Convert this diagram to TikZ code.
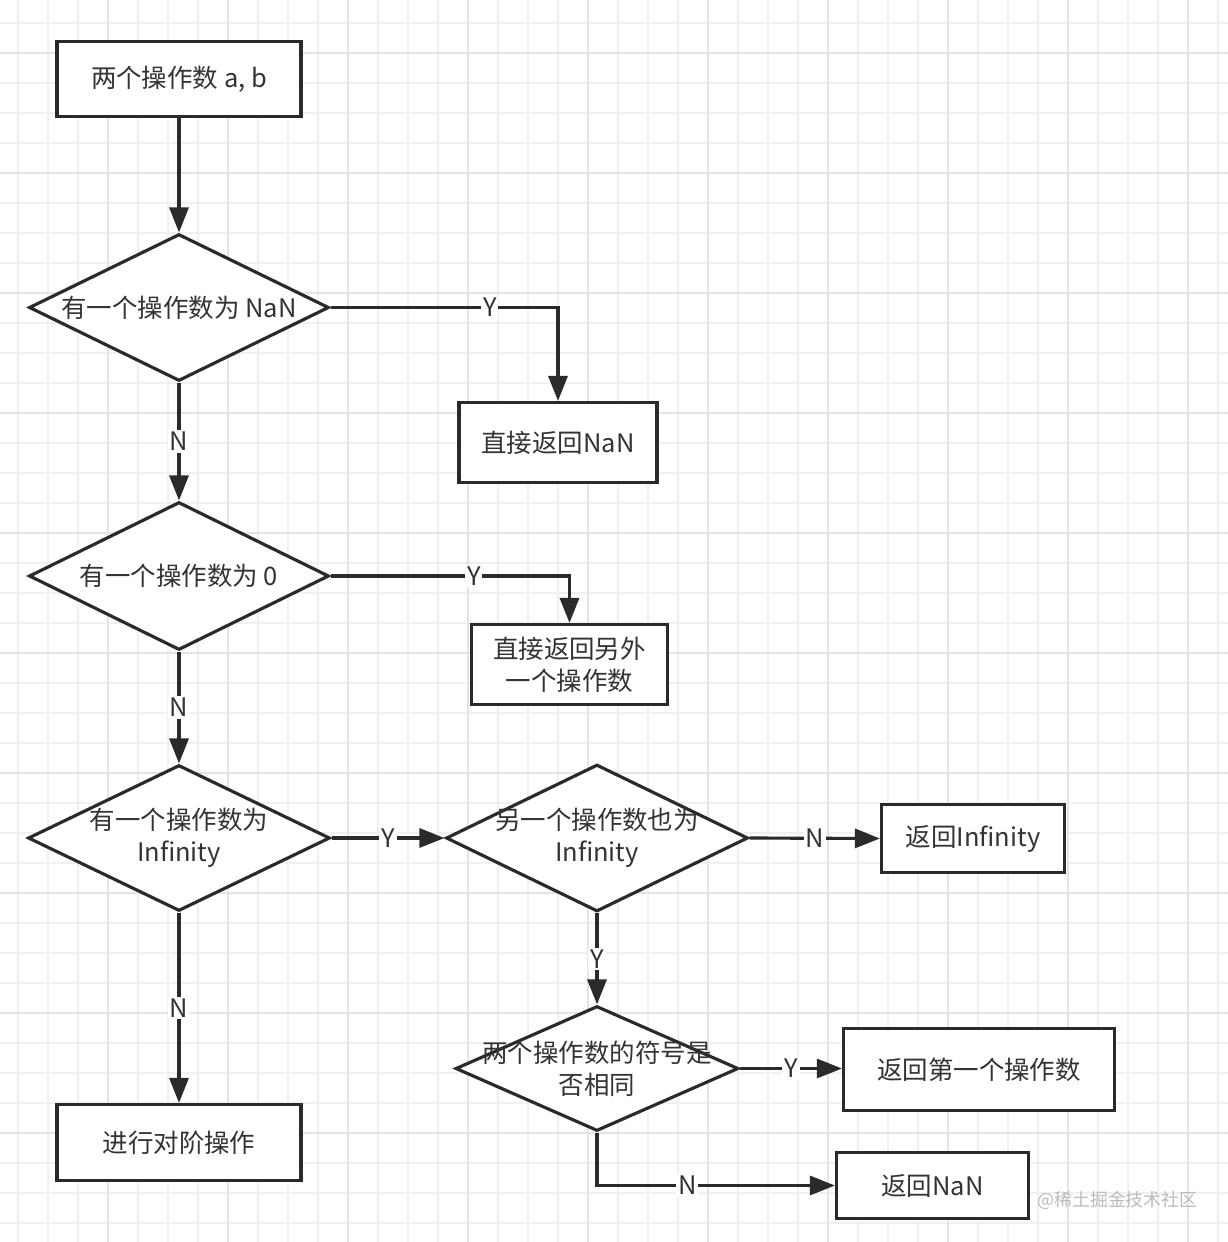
\documentclass[tikz,border=0pt]{standalone}
\usepackage{fontspec}
\setmainfont{Noto Sans CJK SC}
\usetikzlibrary{shapes.geometric,arrows.meta}
\definecolor{ink}{HTML}{333333}
\definecolor{edge}{HTML}{2A2A2A}
\definecolor{gridminor}{HTML}{F0F0F0}
\definecolor{gridmajor}{HTML}{E4E4E4}
\definecolor{wm}{HTML}{BBBBBB}
\begin{document}
\begin{tikzpicture}[x=0.02cm,y=-0.02cm,
  every node/.style={text=ink, font=\fontsize{14.5pt}{18.2pt}\selectfont},
  box/.style={draw=edge, line width=1.8pt, rectangle, fill=white, align=center, inner sep=0pt},
  dia/.style={draw=edge, line width=1.8pt, diamond, fill=white, inner sep=0pt},
  dtext/.style={align=center, inner sep=0pt},
  arr/.style={draw=edge, line width=1.8pt, -{Triangle[length=0.5cm,width=0.38cm]}},
  lbl/.style={fill=white, inner sep=1pt}
]
\useasboundingbox (0,0) rectangle (1228,1242);
\fill[white] (0,0) rectangle (1228,1242);
% grid
\foreach \i in {0,...,40} {
  \draw[gridminor, line width=0.7pt] ({18+30*\i},0) -- ({18+30*\i},1242);
  \draw[gridminor, line width=0.7pt] (0,{23+30*\i}) -- (1228,{23+30*\i});
}
\foreach \i in {0,...,9} {
  \draw[gridmajor, line width=1pt] ({108+120*\i},0) -- ({108+120*\i},1242);
  \draw[gridmajor, line width=1pt] (0,{53+120*\i}) -- (1228,{53+120*\i});
}

% boxes
\node[box, minimum width=4.88cm, minimum height=1.5cm] (b1) at (179,79) {两个操作数 a, b};
\node[box, minimum width=3.96cm, minimum height=1.6cm] (r1) at (558,442.5) {直接返回NaN};
\node[box, minimum width=3.92cm, minimum height=1.6cm] (r2) at (569.5,664.5) {直接返回另外\\一个操作数};
\node[box, minimum width=3.66cm, minimum height=1.36cm] (r3) at (973,838.5) {返回Infinity};
\node[box, minimum width=5.42cm, minimum height=1.64cm] (r4) at (979,1069.5) {返回第一个操作数};
\node[box, minimum width=3.84cm, minimum height=1.32cm] (r5) at (932.5,1185.5) {返回NaN};
\node[box, minimum width=4.88cm, minimum height=1.52cm] (r6) at (179,1142.5) {进行对阶操作};

% diamonds
\node[dia, minimum width=6cm, minimum height=2.94cm] (d1) at (179,307.5) {};
\node[dtext] (t1) at (d1.center) {有一个操作数为 NaN};
\node[dia, minimum width=6cm, minimum height=2.96cm] (d2) at (179,576) {};
\node[dtext] (t2) at (d2.center) {有一个操作数为 0};
\node[dia, minimum width=6.04cm, minimum height=2.92cm] (d3) at (179,838) {};
\node[dtext] (t3) at (d3.center) {有一个操作数为\\Infinity};
\node[dia, minimum width=6.04cm, minimum height=2.94cm] (d4) at (597,838) {};
\node[dtext] (t4) at (d4.center) {另一个操作数也为\\Infinity};
\node[dia, minimum width=5.66cm, minimum height=2.5cm] (d5) at (597,1068.5) {};
\node[dtext] (t5) at (d5.center) {两个操作数的符号是\\否相同};

% connectors
\draw[arr] (b1.south) -- (d1.north);
\draw[arr] (d1.east) -| node[lbl, pos=0.35] {Y} (r1.north);
\draw[arr] (d1.south) -- node[lbl] {N} (d2.north);
\draw[arr] (d2.east) -| node[lbl, pos=0.3] {Y} (r2.north);
\draw[arr] (d2.south) -- node[lbl] {N} (d3.north);
\draw[arr] (d3.east) -- node[lbl] {Y} (d4.west);
\draw[arr] (d4.east) -- node[lbl] {N} (r3.west);
\draw[arr] (d4.south) -- node[lbl] {Y} (d5.north);
\draw[arr] (d5.east) -- node[lbl] {Y} (d5.east -| r4.west);
\draw[arr] (d5.south) |- node[lbl, pos=0.69] {N} (r5.west);
\draw[arr] (d3.south) -- node[lbl] {N} (r6.north);

% watermark
\node[text=wm, font=\fontsize{10.2pt}{12pt}\selectfont, anchor=west, inner sep=0pt] (wmk) at (1037,1200) {@稀土掘金技术社区};
\end{tikzpicture}
\end{document}
